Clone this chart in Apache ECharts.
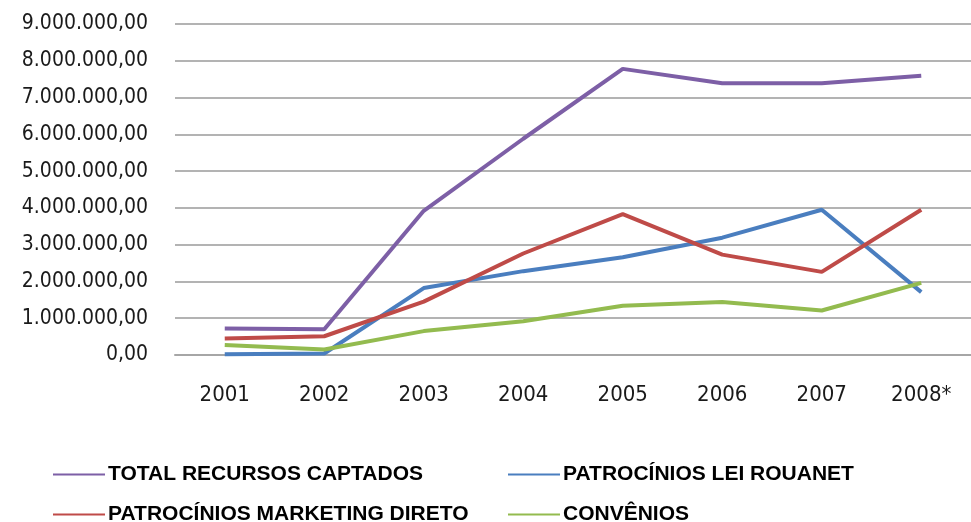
<!DOCTYPE html>
<html>
<head>
<meta charset="utf-8">
<script src="https://cdn.jsdelivr.net/npm/echarts@6/dist/echarts.min.js"></script>
<style>
  html, body { margin: 0; padding: 0; background: #fff; }
  #chart { width: 971px; height: 522px; }
</style>
</head>
<body>
<div id="chart"></div>
<script>
  // anos
  var anos = ['2001', '2002', '2003', '2004', '2005', '2006', '2007', '2008*'];
  // valores (R$)
  var totalCaptado = [720000, 700000, 3920000, 5880000, 7780000, 7390000, 7390000, 7590000];
  var leiRouanet = [20000, 40000, 1820000, 2280000, 2660000, 3190000, 3950000, 1710000];
  var marketingDireto = [450000, 510000, 1450000, 2760000, 3830000, 2730000, 2260000, 3950000];
  var convenios = [270000, 150000, 650000, 920000, 1340000, 1440000, 1210000, 1960000];
  var yTicks = [0, 1000000, 2000000, 3000000, 4000000, 5000000, 6000000, 7000000, 8000000, 9000000];

  var nomes = ['TOTAL RECURSOS CAPTADOS', 'PATROCÍNIOS LEI ROUANET', 'PATROCÍNIOS MARKETING DIRETO', 'CONVÊNIOS'];
  var cores = ['#7D5FA6', '#4A7EBF', '#BF4B48', '#93BB4F'];

  // formato pt-BR: 9.000.000,00
  function fmtBR(v) {
    var s = Math.round(v).toString().replace(/\B(?=(\d{3})+(?!\d))/g, '.');
    return s + ',00';
  }

  var chart = echarts.init(document.getElementById('chart'));

  function serie(i, dados) {
    return {
      name: nomes[i],
      type: 'line',
      data: dados,
      symbol: 'none',
      lineStyle: { width: 4, color: cores[i] },
      itemStyle: { color: cores[i] }
    };
  }

  function legenda(i, left, top) {
    return {
      data: [nomes[i]],
      left: left,
      top: top,
      icon: 'rect',
      itemWidth: 52,
      itemHeight: 2,
      padding: 0,
      textStyle: {
        fontFamily: 'Liberation Sans',
        fontWeight: 'bold',
        fontSize: 21,
        color: '#000',
        padding: [0, 0, 0, -2]
      }
    };
  }

  var option = {
    animation: false,
    backgroundColor: '#fff',
    grid: { left: 175, top: 24, width: 816, height: 331 },
    xAxis: {
      type: 'category',
      data: anos,
      boundaryGap: true,
      axisLine: { lineStyle: { color: '#a6a6a6', width: 2 } },
      axisTick: { show: false },
      axisLabel: {
        margin: 29,
        fontFamily: 'DejaVu Sans Condensed',
        fontSize: 22,
        color: '#1a1a1a'
      }
    },
    yAxis: {
      type: 'value',
      min: yTicks[0],
      max: yTicks[yTicks.length - 1],
      interval: 1000000,
      axisLine: { show: false },
      axisTick: { show: false },
      splitLine: { lineStyle: { color: '#b3b3b3', width: 2 } },
      axisLabel: {
        margin: 27,
        fontFamily: 'DejaVu Sans Condensed',
        fontSize: 21,
        color: '#1a1a1a',
        formatter: fmtBR
      }
    },
    legend: [
      legenda(0, 53, 464),
      legenda(1, 508, 464),
      legenda(2, 53, 504),
      legenda(3, 508, 504)
    ],
    series: [
      serie(0, totalCaptado),
      serie(1, leiRouanet),
      serie(2, marketingDireto),
      serie(3, convenios)
    ]
  };

  chart.setOption(option);
</script>
</body>
</html>
